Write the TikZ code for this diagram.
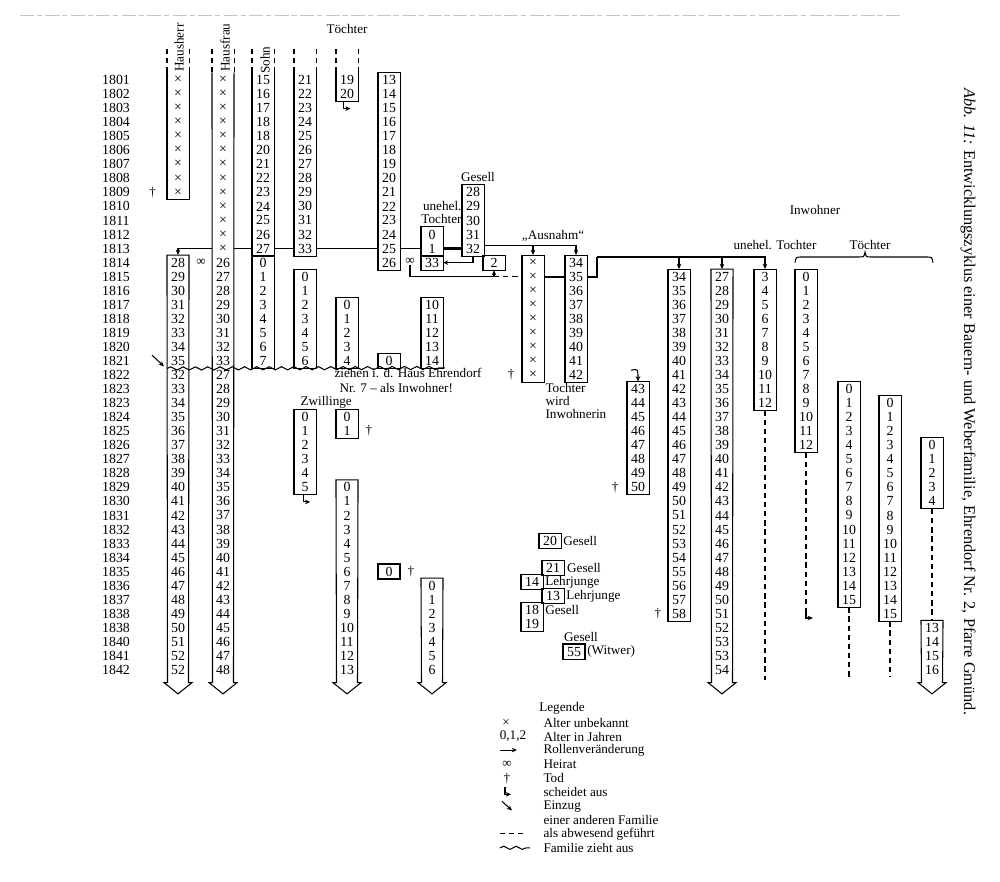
\documentclass[tikz,border=0pt]{standalone}
\usepackage{fontspec}
\setmainfont{Liberation Serif}
\usepackage{tikz}
\usetikzlibrary{positioning, arrows.meta, decorations.pathmorphing}

\newcommand{\zahlfont}{\fontsize{7.9}{8}\selectfont}
\newcommand{\beschrift}{\fontsize{7.5}{8}\selectfont}

% fortlaufende Altersangaben, eine Zeile je Jahr
\newcommand{\lauf}[5]{%
  \foreach \zeile in {#3,...,#4}{%
    \pgfmathtruncatemacro{\alter}{#5+\zeile-#3}%
    \node[zahl] (#1-\zeile) at (#2,\zeile) {\alter};}}
\newcommand{\kreuze}[4]{%
  \foreach \zeile in {#3,...,#4}{\node[zahl] (#1-\zeile) at (#2,\zeile) {×};}}
\newcommand{\kasten}[2]{\draw (#1.north west) rectangle (#2.south east);}
\newcommand{\uform}[2]{\draw (#1.north west) -- (#2.south west) -- (#2.south east) -- (#1.north east);}
\newcommand{\pfeilzu}[2]{%
  \draw (#1.north east) -- (#1.north west) -- ({#2-10.5},42.9) -- ({#2-14},42.9)
    -- (#2,43.7) -- ({#2+14},42.9) -- ({#2+10.5},42.9) -- cycle;}
\newcommand{\pfeilauf}[2]{%
  \draw (#1.north west) -- ({#2-10.5},42.9) -- ({#2-14},42.9)
    -- (#2,43.7) -- ({#2+14},42.9) -- ({#2+10.5},42.9) -- (#1.north east);}

\begin{document}
\begin{tikzpicture}[x=0.02cm, y=-0.281cm, line width=0.6pt,
  zahl/.style={minimum width=0.42cm, minimum height=0.281cm, inner sep=0pt, font=\zahlfont},
  jahr/.style={inner sep=0pt, font=\zahlfont},
  beschr/.style={inner sep=0pt, font=\beschrift},
  abwesend/.style={dash pattern=on 3pt off 2.2pt},
  rolle/.style={-{Stealth[length=3pt, width=2.6pt]}},
  wellig/.style={decorate, decoration={snake, amplitude=0.9pt, segment length=7pt}}]
  \useasboundingbox (0,-5.694) rectangle (1000,57.082);

  % Rest der Vorseite im Scan
  \draw[gray!45, line width=0.3pt, dash pattern=on 8pt off 1.5pt on 3pt off 2pt] (20,-4.62) -- (900,-4.62);

  % Jahre
  \foreach \j [count=\zeile from 0] in {1801,1802,1803,1804,1805,1806,1807,1808,1809,1810,1811,
      1812,1813,1814,1815,1816,1817,1818,1819,1820,1821,1822,1823,1823,1824,1825,1826,1827,
      1828,1829,1830,1831,1832,1833,1834,1835,1836,1837,1838,1838,1840,1841,1842}
    \node[jahr] (jahr-\zeile) at (116,\zeile) {\j};

  % Hausherr
  \kreuze{hhA}{178}{0}{8}
  \uform{hhA-0}{hhA-8}
  \lauf{hhB}{178}{13}{20}{28}
  \lauf{hhB}{178}{21}{41}{32}
  \node[zahl] (hhB-42) at (178,42) {52};
  \pfeilzu{hhB-13}{178}
  % Hausfrau
  \kreuze{hf}{223}{0}{12}
  \lauf{hf}{223}{13}{20}{26}
  \lauf{hf}{223}{21}{42}{27}
  \pfeilauf{hf-0}{223}
  % Sohn
  \lauf{sohnA}{263}{0}{3}{15}
  \node[zahl] (sohnA-4) at (263,4) {18};
  \lauf{sohnA}{263}{5}{12}{20}
  \uform{sohnA-0}{sohnA-12}
  \lauf{sohnB}{263}{13}{20}{0}
  \kasten{sohnB-13}{sohnB-20}
  % Toechter
  \lauf{tA}{305}{0}{12}{21}
  \uform{tA-0}{tA-12}
  \lauf{tB}{305}{14}{20}{0}
  \kasten{tB-14}{tB-20}
  \lauf{tC}{305}{24}{29}{0}
  \kasten{tC-24}{tC-29}
  \lauf{uA}{347}{0}{1}{19}
  \uform{uA-0}{uA-1}
  \lauf{uB}{347}{16}{20}{0}
  \kasten{uB-16}{uB-20}
  \lauf{uC}{347}{24}{25}{0}
  \kasten{uC-24}{uC-25}
  \lauf{uD}{347}{29}{42}{0}
  \pfeilzu{uD-29}{347}
  \lauf{vA}{389}{0}{13}{13}
  \kasten{vA-0}{vA-13}
  \node[zahl] (vB-20) at (389,20) {0};
  \kasten{vB-20}{vB-20}
  \node[zahl] (vC-35) at (389,35) {0};
  \draw[thick] (vC-35.north west) rectangle (vC-35.south east);
  \lauf{wA}{432}{11}{12}{0}
  \kasten{wA-11}{wA-12}
  \node[zahl] (wM-13) at (432,13) {33};
  \kasten{wM-13}{wM-13}
  \lauf{wB}{432}{16}{20}{10}
  \kasten{wB-16}{wB-20}
  \lauf{wC}{432}{36}{42}{0}
  \pfeilzu{wC-36}{432}
  % Gesell und Ausnahm
  \lauf{ges}{473}{8}{12}{28}
  \kasten{ges-8}{ges-12}
  \node[zahl] (two-13) at (494,13) {2};
  \kasten{two-13}{two-13}
  \kreuze{ausA}{533}{13}{21}
  \kasten{ausA-13}{ausA-21}
  \lauf{ausB}{576}{13}{21}{34}
  \kasten{ausB-13}{ausB-21}
  \lauf{inw}{638}{22}{29}{43}
  \kasten{inw-22}{inw-29}
  % Inwohner
  \lauf{pA}{679}{14}{38}{34}
  \kasten{pA-14}{pA-38}
  \lauf{pB}{722}{14}{40}{27}
  \node[zahl] (pB-41) at (722,41) {53};
  \node[zahl] (pB-42) at (722,42) {54};
  \pfeilzu{pB-14}{722}
  \lauf{qA}{765}{14}{23}{3}
  \kasten{qA-14}{qA-23}
  \lauf{qB}{806}{14}{26}{0}
  \kasten{qB-14}{qB-26}
  \lauf{qC}{849}{22}{37}{0}
  \kasten{qC-22}{qC-37}
  \lauf{qD}{890}{23}{38}{0}
  \kasten{qD-23}{qD-38}
  \lauf{qE}{932}{26}{30}{0}
  \kasten{qE-26}{qE-30}
  \lauf{qF}{932}{39}{42}{13}
  \pfeilzu{qF-39}{932}

  % Kopf
  \node[beschr, rotate=90] (kopf-hh) at (179,-2.3) {Hausherr};
  \node[beschr, rotate=90] (kopf-hf) at (225,-2.3) {Hausfrau};
  \node[beschr, rotate=90] (kopf-so) at (265,-1.4) {Sohn};
  \node[beschr] (kopf-t) at (347,-3.6) {Töchter};
  \foreach \c in {hhA,hf,sohnA,tA,uA}{
    \draw[abwesend] (\c-0.north west) -- ++(0,-1.9);
    \draw[abwesend] (\c-0.north east) -- ++(0,-1.9);}

  % Beschriftungen
  \node[beschr] (ges-titel) at (478,6.9) {Gesell};
  \node[beschr, anchor=east] (unehel-1) at (462,9.0) {unehel.};
  \node[beschr, anchor=east] (unehel-2) at (462,9.9) {Tochter};
  \node[beschr] (ausnahm) at (553,11.1) {„Ausnahm“};
  \node[beschr, anchor=west] (zwill) at (300,22.95) {Zwillinge};
  \node[beschr, anchor=west] (umzug-1) at (334,20.85) {ziehen i. d. Haus Ehrendorf};
  \node[beschr, anchor=west] (umzug-2) at (339,21.9) {Nr. 7 – als Inwohner!};
  \node[beschr, anchor=west] (twi-1) at (545,21.9) {Tochter};
  \node[beschr, anchor=west] (twi-2) at (545,22.85) {wird};
  \node[beschr, anchor=west] (twi-3) at (545,23.8) {Inwohnerin};
  \node[beschr] (inw-titel) at (815,9.25) {Inwohner};
  \node[beschr] (inw-unehel) at (775,11.75) {unehel. Tochter};
  \node[beschr] (inw-toechter) at (870,11.75) {Töchter};
  \draw (795,13.0) .. controls (796,12.6) .. (802,12.6) -- (859,12.6)
    .. controls (864,12.6) .. (865,12.25) .. controls (866,12.6) .. (871,12.6)
    -- (926,12.6) .. controls (932,12.6) .. (933,13.0);

  % Tod
  \node[beschr, left=6pt of hhA-8] (tod-1) {†};
  \node[beschr, right=4pt of uC-25] (tod-2) {†};
  \node[beschr, right=4pt of vC-35] (tod-3) {†};
  \node[beschr, left=4pt of ausA-21] (tod-4) {†};
  \node[beschr, left=4.5pt of inw-29] (tod-5) {†};
  \node[beschr, left=3.5pt of pA-38] (tod-6) {†};

  % Heirat und Rollen
  \node[beschr] (heirat-1) at (201,13) {∞};
  \node[beschr] (heirat-2) at (410,12.9) {∞};
  \draw[rolle] (hf-12.west) -| (hhB-13.north);
  \draw (sohnA-12.west) -- (hf-12.east);
  \draw (sohnA-12.east) -- (tA-12.west);
  \draw (tA-12.east) -- (vA-12.west);
  \draw (vA-12.east) -- (wA-12.west);
  \draw[line width=1.3pt] (wA-12.east) -- (ges-12.west);
  \draw[rolle] (ges-12.south) |- (wM-13.east);
  \coordinate (ausn) at (483.5,11.75);
  \draw[rolle] (ausn) -| (ausB-13.north);
  \draw[rolle] (ausA-13.north |- ausn) -- (ausA-13.north);
  \draw (heirat-2.south) |- (two-13.south |- ausA-14.west);
  \draw[abwesend] (two-13.south |- ausA-14.west) -- (ausA-14.west);
  \draw[rolle] (two-13.south |- ausA-14.west) -- (two-13.south);
  \draw[line width=1.3pt] (ausA-14.east) -- (ausB-14.west);
  \coordinate (inwl) at (597,12.6);
  \draw[line width=1.3pt] (ausB-14.east) -| (inwl);
  \draw[rolle] (inwl) -| (qA-14.north);
  \draw[rolle] (pA-14.north |- inwl) -- (pA-14.north);
  \draw[rolle] (pB-14.north |- inwl) -- (pB-14.north);
  \draw[rolle] ([shift={(-7,-0.8)}]inw-22.north) .. controls ([shift={(0,-0.9)}]inw-22.north) .. (inw-22.north);

  % scheidet aus, abwesend
  \draw[rolle] ([xshift=-2pt]uA-1.south) -- ++(0,0.5) -- ++(7,0);
  \draw[rolle] ([xshift=-1pt]tC-29.south) -- ++(0,0.5) -- ++(7,0);
  \draw[abwesend] (qA-23.south) -- (765,42.7);
  \draw[abwesend] (qB-26.south) -- (806,37.8) coordinate (qB-ende);
  \draw[rolle] (qB-ende) -- ++(0,0.5) -- ++(7,0);
  \draw[abwesend] (qC-37.south) -- (849,42.5);
  \draw[abwesend] (qD-38.south) -- (890,42.5);
  \draw[abwesend] (qE-30.south) -- (qF-39.north);

  % Familie zieht aus, Einzug
  \draw[wellig] (hhB-20.south west) -- (445,20.5);
  \draw[rolle] ([shift={(-15,-0.95)}]hhB-20.south west) -- ([shift={(-3,-0.15)}]hhB-20.south west);

  % Gesellen und Lehrjungen
  \node[zahl] (g20) at (550,32.8) {20};
  \node[beschr, right=1pt of g20] (g20-text) {Gesell};
  \node[zahl] (g21) at (553,34.75) {21};
  \node[beschr, right=1.5pt of g21] (g21-text) {Gesell};
  \node[zahl] (g14) at (532,35.75) {14};
  \node[beschr, right=1pt of g14] (g14-text) {Lehrjunge};
  \node[zahl] (g13) at (553,36.75) {13};
  \node[beschr, right=1pt of g13] (g13-text) {Lehrjunge};
  \node[zahl] (g18) at (532,37.75) {18};
  \node[beschr, right=1pt of g18] (g18-text) {Gesell};
  \node[zahl] (g19) at (532,38.75) {19};
  \node[beschr] (g55-titel) at (581,39.65) {Gesell};
  \node[zahl] (g55) at (574,40.7) {55};
  \node[beschr, right=1pt of g55] (g55-text) {(Witwer)};
  \kasten{g20}{g20}
  \kasten{g21}{g21}
  \kasten{g14}{g14}
  \kasten{g13}{g13}
  \kasten{g18}{g19}
  \draw[thick] (g55.north west) rectangle (g55.south east);

  % Legende
  \node[beschr] (legende) at (562,44.7) {Legende};
  \foreach \eintrag [count=\i from 0] in {Alter unbekannt, Alter in Jahren, Rollenveränderung,
      Heirat, Tod, scheidet aus, Einzug, einer anderen Familie, als abwesend geführt, Familie zieht aus}
    \node[beschr, anchor=west] (leg-\i) at (543,45.75+\i*0.99) {\eintrag};
  \node[beschr] (sym-0) at (506,45.75) {×};
  \node[beschr] (sym-1) at (513,46.74) {0,1,2};
  \draw[rolle] (500,47.7) -- (517,47.7);
  \node[beschr] (sym-3) at (507,48.72) {∞};
  \node[beschr] (sym-4) at (507,49.71) {†};
  \draw[rolle] (505,50.3) -- ++(0,0.55) -- ++(6,0);
  \draw[rolle] (502,51.35) -- (512,52.0);
  \draw[abwesend] (500,53.67) -- (523,53.67);
  \draw[wellig] (500,54.66) -- (530,54.66);

  % Bildunterschrift
  \node[rotate=-90, font=\fontsize{9.3}{10}\selectfont] (titel) at (968,22.9)
    {\textit{Abb. 11:} Entwicklungszyklus einer Bauern- und Weberfamilie, Ehrendorf Nr. 2, Pfarre Gmünd.};
\end{tikzpicture}
\end{document}
